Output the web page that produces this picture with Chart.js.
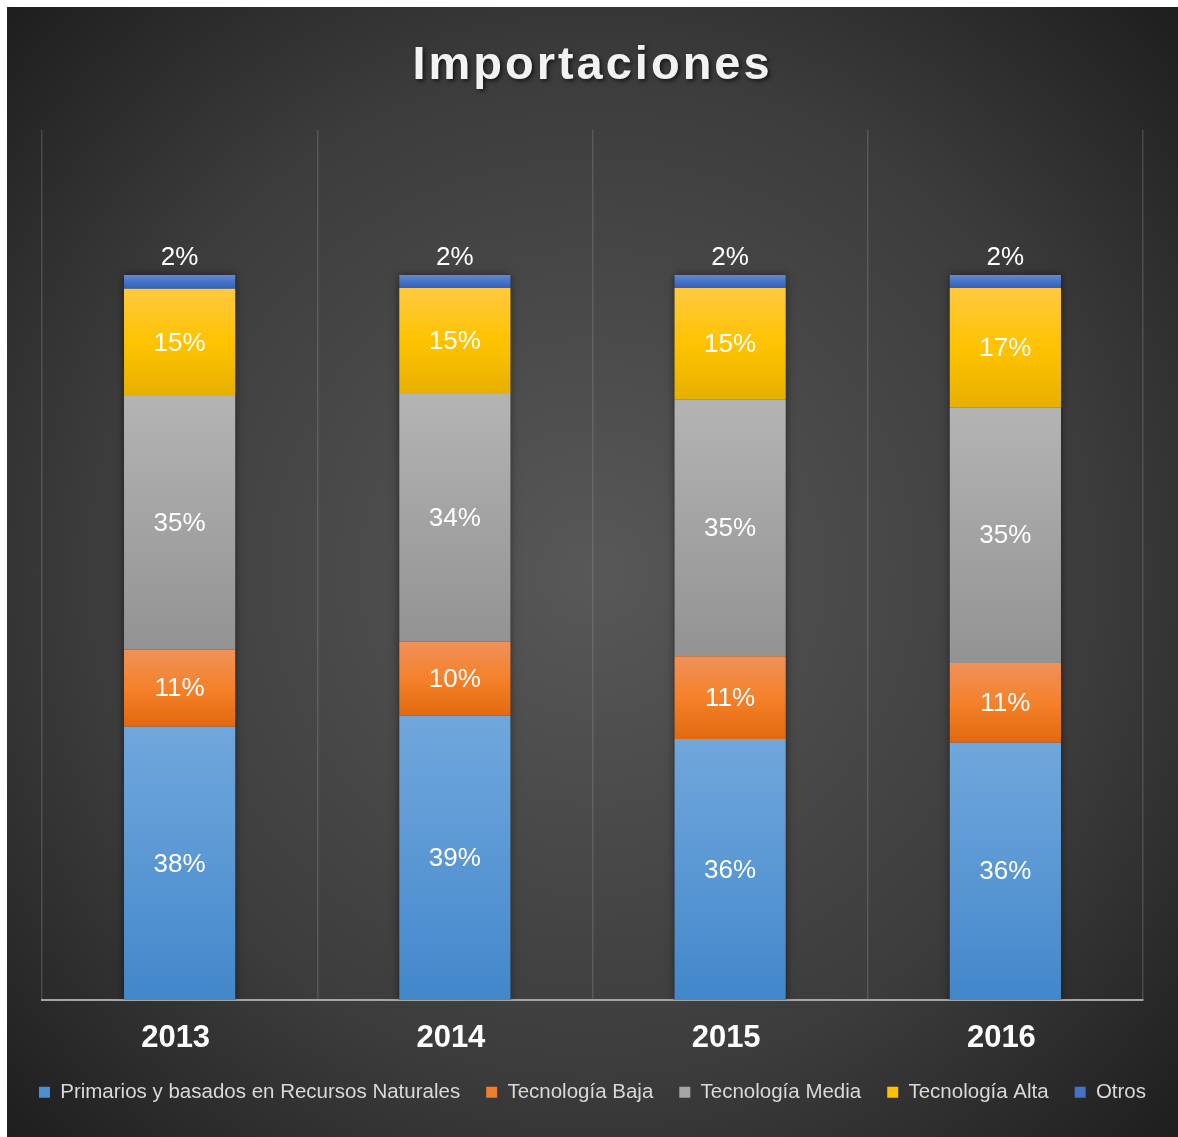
<!DOCTYPE html>
<html><head><meta charset="utf-8">
<script src="https://cdn.jsdelivr.net/npm/chart.js@4.4.1/dist/chart.umd.min.js"></script>
<style>
html,body{margin:0;padding:0;background:#ffffff;}
#wrap{position:absolute;left:7px;top:7px;width:1171px;height:1130px;
background:radial-gradient(circle farthest-corner at 50% 50%, #585858 0%, #484848 35%, #3c3c3c 62%, #1e1e1e 100%);}
canvas{display:block}
</style></head><body>
<div id="wrap"><canvas id="c" width="1171" height="1130"></canvas></div>
<script>
const chartTitle = 'Importaciones';
const categories = ['2013', '2014', '2015', '2016'];
const seriesNames = ['Primarios y basados en Recursos Naturales', 'Tecnología Baja', 'Tecnología Media', 'Tecnología Alta', 'Otros'];
const primarios = [37.7, 39.2, 36.0, 35.5];
const tecnologiaBaja = [10.6, 10.2, 11.4, 11.0];
const tecnologiaMedia = [35.0, 34.2, 35.4, 35.2];
const tecnologiaAlta = [14.8, 14.6, 15.4, 16.5];
const otros = [1.9, 1.8, 1.8, 1.8];

const FONT = "'Liberation Sans', Arial, Helvetica, sans-serif";
const legendColors = ['#4a8fd0', '#ed7d31', '#a5a5a5', '#ffc000', '#4472c4'];
const gradStops = [
  ['#70a7dc', '#5a98d4', '#4287cb'],
  ['#f0915a', '#f5812a', '#e2690f'],
  ['#b4b4b4', '#a3a3a3', '#939393'],
  ['#ffc940', '#ffc300', '#e6b000'],
  ['#5f8ad8', '#4574c8', '#2f62bf']
];

function segGrad(idx) {
  const stops = gradStops[idx];
  return (ctx) => {
    const chart = ctx.chart;
    const y = chart.scales && chart.scales.y;
    if (!y || ctx.type !== 'data') return stops[1];
    const di = ctx.dataIndex, ds = ctx.datasetIndex;
    let start = 0;
    for (let k = 0; k < ds; k++) start += chart.data.datasets[k].data[di];
    const end = start + chart.data.datasets[ds].data[di];
    const top = y.getPixelForValue(end), bot = y.getPixelForValue(start);
    if (!isFinite(top) || !isFinite(bot) || top === bot) return stops[1];
    const g = chart.ctx.createLinearGradient(0, top, 0, bot);
    g.addColorStop(0, stops[0]);
    g.addColorStop(0.5, stops[1]);
    g.addColorStop(1, stops[2]);
    return g;
  };
}

const seriesData = [primarios, tecnologiaBaja, tecnologiaMedia, tecnologiaAlta, otros];

const titlePlugin = {
  id: 'titlePlugin',
  afterDraw(chart) {
    const ctx = chart.ctx;
    ctx.save();
    ctx.font = 'bold 47px ' + FONT;
    try { ctx.letterSpacing = '3px'; } catch (e) {}
    ctx.textAlign = 'center';
    ctx.textBaseline = 'alphabetic';
    ctx.fillStyle = '#f2f2f2';
    ctx.shadowColor = 'rgba(0,0,0,0.65)';
    ctx.shadowBlur = 4;
    ctx.shadowOffsetX = 2;
    ctx.shadowOffsetY = 2;
    ctx.fillText(chartTitle, chart.width / 2, 72);
    ctx.restore();
  }
};

const shadowPlugin = {
  id: 'shadowPlugin',
  beforeDatasetsDraw(chart) {
    const ctx = chart.ctx;
    const n = chart.data.datasets.length;
    const first = chart.getDatasetMeta(0), last = chart.getDatasetMeta(n - 1);
    const a = chart.chartArea;
    ctx.save();
    ctx.beginPath();
    ctx.rect(a.left, a.top - 30, a.right - a.left, a.bottom - a.top + 30);
    ctx.clip();
    ctx.shadowColor = 'rgba(0,0,0,0.5)';
    ctx.shadowBlur = 8;
    ctx.fillStyle = '#2a2a2a';
    first.data.forEach((el, i) => {
      const top = last.data[i].y;
      const base = el.base;
      const w = el.width;
      ctx.fillRect(el.x - w / 2, top, w, base - top);
    });
    ctx.restore();
  }
};

const labelPlugin = {
  id: 'labelPlugin',
  afterDatasetsDraw(chart) {
    const ctx = chart.ctx;
    const n = chart.data.datasets.length;
    ctx.save();
    ctx.font = '26px ' + FONT;
    ctx.fillStyle = '#ffffff';
    ctx.textAlign = 'center';
    chart.data.datasets.forEach((ds, di) => {
      const meta = chart.getDatasetMeta(di);
      meta.data.forEach((el, i) => {
        const txt = Math.round(ds.data[i]) + '%';
        if (di === n - 1) {
          ctx.textBaseline = 'alphabetic';
          ctx.fillText(txt, el.x, el.y - 10);
        } else {
          ctx.textBaseline = 'middle';
          ctx.fillText(txt, el.x, (el.y + el.base) / 2 + 1);
        }
      });
    });
    ctx.restore();
  }
};

new Chart(document.getElementById('c'), {
  type: 'bar',
  data: {
    labels: categories,
    datasets: seriesNames.map((name, i) => ({
      label: name,
      data: seriesData[i],
      backgroundColor: segGrad(i),
      borderWidth: 0,
      barPercentage: 0.404,
      categoryPercentage: 1.0
    }))
  },
  options: {
    responsive: false,
    animation: false,
    layout: { padding: { left: 0, right: 0, top: 123, bottom: 24.5 } },
    scales: {
      x: {
        stacked: true,
        grid: { display: true, offset: true, color: 'rgba(150,150,150,0.3)', lineWidth: 1.5, drawTicks: false },
        border: { display: true, color: '#a6a6a6', width: 2 },
        ticks: { color: '#ffffff', font: { family: FONT, size: 31, weight: 'bold' }, padding: 20, labelOffset: -4 },
        afterFit: (s) => { s.height = 56; }
      },
      y: {
        stacked: true, min: 0, max: 120, position: 'left',
        ticks: { display: false }, grid: { display: false }, border: { display: false },
        afterFit: (s) => { s.width = 35; }
      },
      y2: {
        type: 'linear', position: 'right', min: 0, max: 120,
        ticks: { display: false }, grid: { display: false }, border: { display: false },
        afterFit: (s) => { s.width = 35; }
      }
    },
    plugins: {
      tooltip: { enabled: false },
      legend: {
        position: 'bottom',
        labels: {
          color: '#d9d9d9',
          font: { family: FONT, size: 20.5 },
          boxWidth: 11,
          boxHeight: 11,
          padding: 26,
          generateLabels: (chart) => chart.data.datasets.map((ds, i) => ({
            text: ds.label,
            fillStyle: legendColors[i],
            strokeStyle: legendColors[i],
            lineWidth: 0,
            fontColor: '#d9d9d9',
            hidden: false,
            datasetIndex: i
          }))
        }
      }
    }
  },
  plugins: [shadowPlugin, labelPlugin, titlePlugin]
});
</script>
</body></html>
